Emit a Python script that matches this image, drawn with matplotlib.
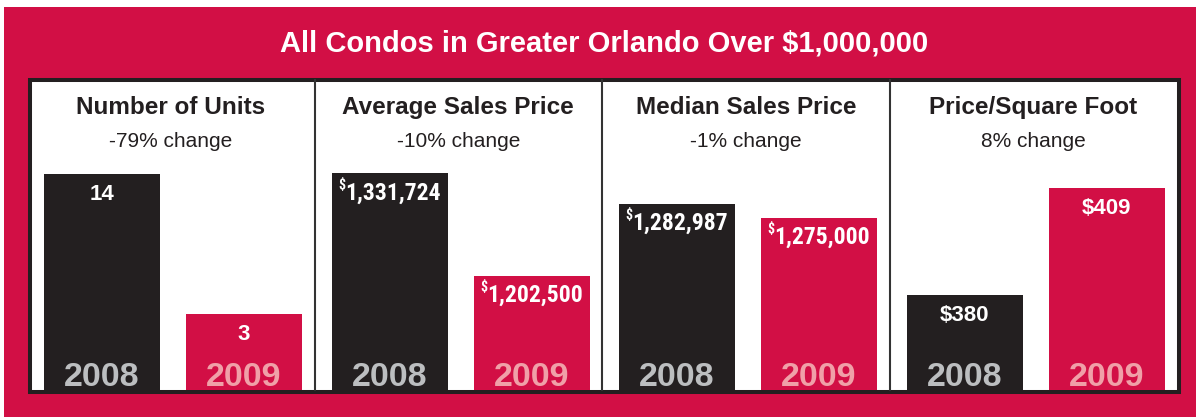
import matplotlib.pyplot as plt
from matplotlib.patches import Rectangle

plt.rcParams['font.family'] = ['Liberation Sans', 'DejaVu Sans']

# data
years = ['2008', '2009']
titles = ['Number of Units', 'Average Sales Price', 'Median Sales Price', 'Price/Square Foot']
changes = ['-79% change', '-10% change', '-1% change', '8% change']
units = [14, 3]
avg_price = [1331724, 1202500]
median_price = [1282987, 1275000]
price_sqft = [380, 409]

panels = [units, avg_price, median_price, price_sqft]
label_style = ['plain', 'super', 'super', 'dollar']
# each panel has its own (non-zero) baseline, as in the original graphic
ylims = [(-2.97, 21.39), (1059042, 1449126), (1176877, 1353727), (354.25, 438.27)]

RED = '#d20f45'
DARK = '#231f20'
GRAY_TXT = '#bcbec0'
PINK_TXT = '#f0a0a8'
bar_colors = [DARK, RED]
year_colors = [GRAY_TXT, PINK_TXT]

W, H = 1196, 417
fig = plt.figure(figsize=(W / 100, H / 100), dpi=100)
fig.patch.set_facecolor('white')

# red frame and white inner box
fig.patches.append(Rectangle((4 / W, 0), 1192 / W, 410 / H, transform=fig.transFigure,
                             facecolor=RED, edgecolor='none', zorder=-2))
fig.patches.append(Rectangle((30 / W, 1 - 392.3 / H), 1148.8 / W, 312.3 / H,
                             transform=fig.transFigure, facecolor='white',
                             edgecolor=DARK, linewidth=2.9, zorder=-1))

fig.text(604 / W, 1 - 51 / H, 'All Condos in Greater Orlando Over $1,000,000',
         ha='center', va='baseline', color='white', fontsize=21, fontweight='bold')

pw = 287.5
x = [0, 1]
narrow = ['Roboto Condensed', 'Liberation Sans Narrow', 'DejaVu Sans']
supers = []

for i, vals in enumerate(panels):
    left = 27 + pw * i
    ax = fig.add_axes([left / W, 27 / H, pw / W, 310 / H])
    ax.patch.set_alpha(0)
    lo, hi = ylims[i]
    ax.bar(x, [v - lo for v in vals], bottom=lo, width=116 / 142, color=bar_colors)
    ax.set_xlim(-75 / 142, (pw - 75) / 142)
    ax.set_ylim(lo, hi)
    ax.set_xticks([])
    ax.set_yticks([])
    for s in ax.spines.values():
        s.set_visible(False)
    if i < 3:
        ax.spines['right'].set_visible(True)
        ax.spines['right'].set_color('#333333')
        ax.spines['right'].set_linewidth(1.5)

    cx = (left + pw / 2) / W
    fig.text(cx, 1 - 114.3 / H, titles[i], ha='center', va='baseline',
             color=DARK, fontsize=17.5, fontweight='bold')
    fig.text(cx, 1 - 146.7 / H, changes[i], ha='center', va='baseline',
             color=DARK, fontsize=15)

    for j, v in enumerate(vals):
        ax.annotate(years[j], xy=(x[j], lo), xytext=(0, 2.9), textcoords='offset points',
                    ha='center', va='baseline', color=year_colors[j],
                    fontsize=24.5, fontweight='bold')
        if label_style[i] == 'plain':
            ax.annotate(str(v), xy=(x[j], v), xytext=(0, -18.7), textcoords='offset points',
                        ha='center', va='baseline', color='white', fontsize=16,
                        fontweight='bold')
        elif label_style[i] == 'dollar':
            ax.annotate(f'${v}', xy=(x[j], v), xytext=(0, -18.7), textcoords='offset points',
                        ha='center', va='baseline', color='white', fontsize=16,
                        fontweight='bold')
        else:
            t = ax.annotate(f'{v:,}', xy=(x[j], v), xytext=(0, -18.7),
                            textcoords='offset points', ha='center', va='baseline',
                            color='white', fontsize=17, fontweight='bold',
                            family=narrow, fontstretch='condensed')
            d = ax.annotate('$', xy=(x[j], v), xytext=(0, -11), textcoords='offset points',
                            ha='right', va='baseline', color='white', fontsize=10,
                            fontweight='bold', family=narrow, fontstretch='condensed')
            supers.append((t, d))

# centre "$" + number as one group
fig.canvas.draw()
r = fig.canvas.get_renderer()
for t, d in supers:
    tw = t.get_window_extent(r).width * 0.72
    dw = d.get_window_extent(r).width * 0.72
    t.xyann = (dw / 2, -18.7)
    d.xyann = (dw / 2 - tw / 2, -11)

fig.savefig('out.png', dpi=100, facecolor=fig.get_facecolor())
